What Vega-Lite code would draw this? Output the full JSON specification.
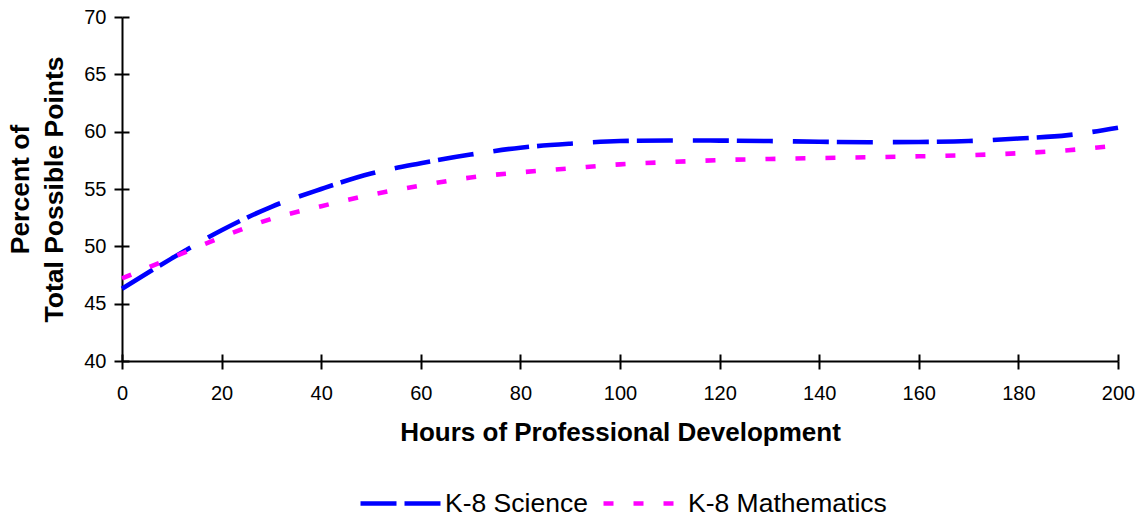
{
  "$schema": "https://vega.github.io/schema/vega-lite/v6.json",
  "width": 996,
  "height": 344,
  "autosize": {"type": "none"},
  "padding": {"left": 122, "top": 17, "right": 25, "bottom": 156},
  "background": "white",
  "config": {
    "font": "Liberation Sans",
    "view": {"stroke": null},
    "axis": {"grid": false, "domainColor": "black", "tickColor": "black", "domainWidth": 2, "tickWidth": 2, "labelColor": "black", "titleColor": "black", "labelFont": "Liberation Sans", "titleFont": "Liberation Sans"}
  },
  "data": {
    "values": [
      {"h": 0, "series": "K-8 Science", "pct": 46.3},
      {"h": 10, "series": "K-8 Science", "pct": 48.95},
      {"h": 20, "series": "K-8 Science", "pct": 51.4},
      {"h": 30, "series": "K-8 Science", "pct": 53.45},
      {"h": 40, "series": "K-8 Science", "pct": 55.0},
      {"h": 50, "series": "K-8 Science", "pct": 56.35},
      {"h": 60, "series": "K-8 Science", "pct": 57.25},
      {"h": 70, "series": "K-8 Science", "pct": 58.0},
      {"h": 80, "series": "K-8 Science", "pct": 58.6},
      {"h": 90, "series": "K-8 Science", "pct": 58.95},
      {"h": 100, "series": "K-8 Science", "pct": 59.18},
      {"h": 110, "series": "K-8 Science", "pct": 59.23},
      {"h": 120, "series": "K-8 Science", "pct": 59.22},
      {"h": 130, "series": "K-8 Science", "pct": 59.18},
      {"h": 140, "series": "K-8 Science", "pct": 59.12},
      {"h": 150, "series": "K-8 Science", "pct": 59.08},
      {"h": 160, "series": "K-8 Science", "pct": 59.1},
      {"h": 170, "series": "K-8 Science", "pct": 59.18},
      {"h": 180, "series": "K-8 Science", "pct": 59.4},
      {"h": 190, "series": "K-8 Science", "pct": 59.7},
      {"h": 200, "series": "K-8 Science", "pct": 60.35},
      {"h": 0, "series": "K-8 Mathematics", "pct": 47.2},
      {"h": 10, "series": "K-8 Mathematics", "pct": 49.0},
      {"h": 20, "series": "K-8 Mathematics", "pct": 50.8},
      {"h": 30, "series": "K-8 Mathematics", "pct": 52.4},
      {"h": 40, "series": "K-8 Mathematics", "pct": 53.5},
      {"h": 50, "series": "K-8 Mathematics", "pct": 54.5},
      {"h": 60, "series": "K-8 Mathematics", "pct": 55.3},
      {"h": 70, "series": "K-8 Mathematics", "pct": 56.0},
      {"h": 80, "series": "K-8 Mathematics", "pct": 56.45},
      {"h": 90, "series": "K-8 Mathematics", "pct": 56.8},
      {"h": 100, "series": "K-8 Mathematics", "pct": 57.15},
      {"h": 110, "series": "K-8 Mathematics", "pct": 57.35},
      {"h": 120, "series": "K-8 Mathematics", "pct": 57.52},
      {"h": 130, "series": "K-8 Mathematics", "pct": 57.62},
      {"h": 140, "series": "K-8 Mathematics", "pct": 57.7},
      {"h": 150, "series": "K-8 Mathematics", "pct": 57.77},
      {"h": 160, "series": "K-8 Mathematics", "pct": 57.85},
      {"h": 170, "series": "K-8 Mathematics", "pct": 57.95},
      {"h": 180, "series": "K-8 Mathematics", "pct": 58.12},
      {"h": 190, "series": "K-8 Mathematics", "pct": 58.38},
      {"h": 200, "series": "K-8 Mathematics", "pct": 58.8}
    ]
  },
  "resolve": {"axis": {"x": "independent", "y": "independent"}},
  "layer": [
    {
      "mark": {"type": "line", "interpolate": "monotone", "strokeWidth": 4.6, "strokeCap": "butt"},
      "encoding": {
        "x": {
          "field": "h", "type": "quantitative",
          "scale": {"domain": [0, 200], "nice": false},
          "axis": {"values": [0, 20, 40, 60, 80, 100, 120, 140, 160, 180, 200], "title": "Hours of Professional Development", "titleFontSize": 26, "titleFontWeight": "bold", "labelFontSize": 20, "tickSize": 8, "labelPadding": 14, "titlePadding": 16, "labelFlush": false}
        },
        "y": {
          "field": "pct", "type": "quantitative",
          "scale": {"domain": [40, 70], "nice": false, "zero": false},
          "axis": {"values": [40, 45, 50, 55, 60, 65, 70], "title": ["Percent of", "Total Possible Points"], "titleFontSize": 26.5, "titleFontWeight": "bold", "titleLineHeight": 34, "labelFontSize": 20, "tickSize": 8, "labelPadding": 8, "titlePadding": 15, "labelFlush": false}
        },
        "color": {
          "field": "series", "type": "nominal",
          "scale": {"domain": ["K-8 Science", "K-8 Mathematics"], "range": ["#0000FF", "#FF00FF"]},
          "legend": {"orient": "none", "direction": "horizontal", "legendX": 236, "legendY": 444, "title": null, "symbolType": "stroke", "symbolSize": 6400, "symbolStrokeWidth": 4.6, "labelFontSize": 26.5, "labelLimit": 600, "labelColor": "black", "labelOffset": 2, "columnPadding": 6, "padding": 0}
        },
        "strokeDash": {
          "field": "series", "type": "nominal",
          "scale": {"domain": ["K-8 Science", "K-8 Mathematics"], "range": [[36, 8, 36, 20], [10, 20]]},
          "legend": null
        }
      }
    },
    {
      "mark": {"type": "point", "opacity": 0},
      "encoding": {
        "x": {
          "field": "h", "type": "quantitative",
          "axis": {"orient": "bottom", "values": [0, 20, 40, 60, 80, 100, 120, 140, 160, 180, 200], "title": null, "labels": false, "domain": false, "tickSize": -7}
        },
        "y": {
          "field": "pct", "type": "quantitative",
          "axis": {"orient": "left", "values": [40, 45, 50, 55, 60, 65, 70], "title": null, "labels": false, "domain": false, "tickSize": -7}
        }
      }
    }
  ]
}
